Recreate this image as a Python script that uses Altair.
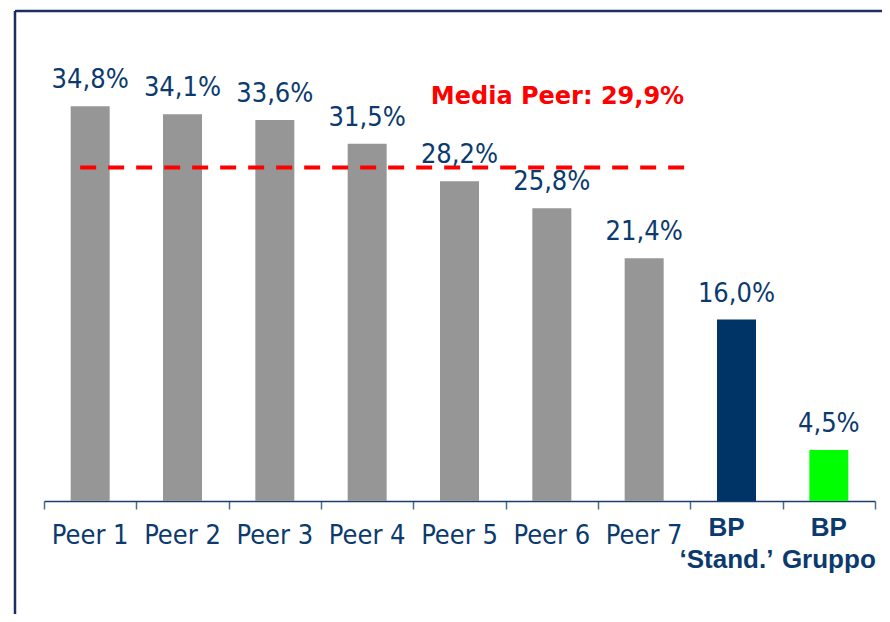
import altair as alt
import pandas as pd

categories = ["Peer 1", "Peer 2", "Peer 3", "Peer 4", "Peer 5", "Peer 6", "Peer 7",
              "BP|‘Stand.’", "BP|Gruppo"]
values = [34.8, 34.1, 33.6, 31.5, 28.2, 25.8, 21.4, 16.0, 4.5]
bar_colors = ["#969696"] * 7 + ["#003366", "#00ff00"]
value_labels = [f"{v:.1f}%".replace(".", ",") for v in values]

mean_label = "Media Peer: 29,9%"
mean_line_value = 29.4   # position of the dashed line as drawn
mean_label_y = 35.0

TXT = "#0b3a6e"
FRAME = "#1c2d60"

df = pd.DataFrame({"cat": categories, "value": values, "label": value_labels})

x_scale = alt.Scale(domain=categories, paddingInner=0, paddingOuter=0)
y_scale = alt.Scale(domain=[0, 43.2], nice=False, zero=True)

x_axis = alt.Axis(
    title=None,
    labels=False,
    domainColor="#1f3c6e",
    domainWidth=1.5,
    tickColor="#4a6a90",
    tickSize=8,
    tickWidth=1.5,
    tickBand="extent",
)

base = alt.Chart(df).encode(
    x=alt.X("cat:N", sort=categories, scale=x_scale, axis=x_axis),
)

bars = base.mark_bar(size=39).encode(
    y=alt.Y("value:Q", scale=y_scale, axis=None),
    color=alt.Color("cat:N", scale=alt.Scale(domain=categories, range=bar_colors), legend=None),
)

texts = base.mark_text(
    dy=-18, baseline="alphabetic", align="center",
    font="DejaVu Sans Condensed", fontSize=27, color=TXT,
).encode(y=alt.Y("value:Q"), text="label:N")

peer_labels = base.transform_filter("indexof(datum.cat, 'BP') != 0").mark_text(
    dy=43, baseline="alphabetic", align="center",
    font="DejaVu Sans Condensed", fontSize=27, color=TXT,
).encode(y=alt.Y(datum=0), text="cat:N")

bp_style = dict(dy=35, baseline="alphabetic", align="center", lineBreak="|", lineHeight=32,
                font="Liberation Sans", fontWeight="bold", fontSize=26, color=TXT)

bp_stand_label = base.transform_filter("datum.cat == 'BP|‘Stand.’'").mark_text(
    dx=-10, **bp_style
).encode(y=alt.Y(datum=0), text="cat:N")

bp_group_label = base.transform_filter("datum.cat == 'BP|Gruppo'").mark_text(
    dx=0, **bp_style
).encode(y=alt.Y(datum=0), text="cat:N")

mean_df = pd.DataFrame({"v": [mean_line_value], "t": [mean_label], "ty": [mean_label_y]})

mean_rule = alt.Chart(mean_df).mark_rule(
    color="#ff0000", strokeWidth=4, strokeDash=[16, 12], xOffset=-10, x2Offset=41
).encode(
    x=alt.X(datum="Peer 1"),
    x2=alt.X2(datum="Peer 7"),
    y=alt.Y("v:Q"),
)

mean_text = alt.Chart(mean_df).mark_text(
    align="right", baseline="alphabetic", font="DejaVu Sans", fontWeight="bold",
    fontSize=24, color="#ff0000", dx=40,
).encode(
    x=alt.X(datum="Peer 7"),
    y=alt.Y("ty:Q"),
    text="t:N",
)

frame_left = alt.Chart(mean_df).mark_rule(color=FRAME, strokeWidth=2.5).encode(
    x=alt.value(-29), y=alt.value(0), y2=alt.value(603)
)
frame_top = alt.Chart(mean_df).mark_rule(color=FRAME, strokeWidth=2.5).encode(
    x=alt.value(-29), x2=alt.value(840), y=alt.value(0)
)

chart = alt.layer(bars, mean_rule, texts, peer_labels, bp_stand_label, bp_group_label,
                  mean_text, frame_left, frame_top).properties(
    width=831,
    height=490,
    background="white",
    autosize=alt.AutoSizeParams(type="none"),
    padding={"left": 36, "top": 3, "right": 7, "bottom": 113},
).configure_view(strokeWidth=0)

chart.save("out.html", embed_options={"renderer": "svg", "actions": False})
